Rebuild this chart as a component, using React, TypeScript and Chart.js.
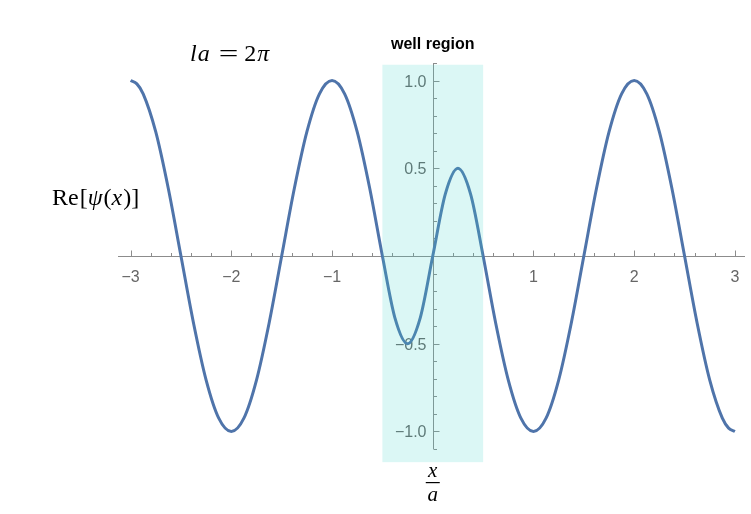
import React, { useEffect, useRef } from "react";
import { Chart, registerables } from "chart.js";

Chart.register(...registerables);

// Sample positions x/a and the real part of the wave function at each one
const xValues = [
  -3, -2.9375, -2.875, -2.75, -2.625, -2.5, -2.375, -2.25, -2.125,
  -2, -1.875, -1.75, -1.625, -1.5, -1.375, -1.25, -1.125,
  -1, -0.875, -0.75, -0.625, -0.5, -0.375, -0.25, -0.125,
  0, 0.125, 0.25, 0.375, 0.5, 0.625, 0.75, 0.875,
  1, 1.125, 1.25, 1.375, 1.5, 1.625, 1.75, 1.875,
  2, 2.125, 2.25, 2.375, 2.5, 2.625, 2.75, 2.875, 2.9375, 3,
];
const psiValues = [
  1, 0.981, 0.924, 0.707, 0.383, 0, -0.383, -0.707, -0.924,
  -1, -0.924, -0.707, -0.383, 0, 0.383, 0.707, 0.924,
  1, 0.924, 0.707, 0.383, 0, -0.354, -0.5, -0.354,
  0, 0.354, 0.5, 0.354, 0, -0.383, -0.707, -0.924,
  -1, -0.924, -0.707, -0.383, 0, 0.383, 0.707, 0.924,
  1, 0.924, 0.707, 0.383, 0, -0.383, -0.707, -0.924, -0.981, -1,
];

const xTickValues = [-3, -2, -1, 1, 2, 3];
const xTickLabels = ["\u22123", "\u22122", "\u22121", "1", "2", "3"];
const yTickValues = [1, 0.5, -0.5, -1];
const yTickLabels = ["1.0", "0.5", "\u22120.5", "\u22121.0"];

// Extent of the shaded well
const wellX = [-0.5, 0.5];
const wellY = [-1.175, 1.09];

const AXIS_COLOR = "#8c8c8c";
const LABEL_COLOR = "#666666";
const CURVE_COLOR = "#4f74aa";
const SANS = "'Liberation Sans', Arial, sans-serif";
const SERIF = "'Liberation Serif', 'Times New Roman', serif";

// text, italic, gap before, horizontal stretch
type Piece = [string, boolean, number?, number?];

// Draw a run of math text, italic pieces mixed with upright ones
function drawMath(ctx: CanvasRenderingContext2D, pieces: Piece[], x: number, y: number, size: number) {
  let cx = x;
  for (const [txt, italic, gap, stretch] of pieces) {
    cx += gap || 0;
    const sx = stretch || 1;
    ctx.font = `${italic ? "italic " : ""}${size}px ${SERIF}`;
    const w = ctx.measureText(txt).width * sx;
    ctx.save();
    ctx.translate(cx, y);
    ctx.scale(sx, 1);
    ctx.fillText(txt, 0, 0);
    ctx.restore();
    cx += w;
  }
}

const crossAxesPlugin = {
  id: "crossAxes",
  beforeDatasetsDraw(chart: any) {
    const { ctx } = chart;
    const xs = chart.scales.x;
    const ys = chart.scales.y;
    const x0 = Math.round(xs.getPixelForValue(0)) + 0.5;
    const y0 = Math.round(ys.getPixelForValue(0)) + 0.5;
    ctx.save();
    ctx.strokeStyle = AXIS_COLOR;
    ctx.lineWidth = 1;
    ctx.beginPath();
    ctx.moveTo(xs.left, y0);
    ctx.lineTo(xs.right, y0);
    ctx.moveTo(x0, ys.top);
    ctx.lineTo(x0, ys.bottom);
    // horizontal axis: ticks every 0.2, pointing up
    for (let i = -15; i <= 15; i++) {
      if (i === 0) continue;
      const px = Math.round(xs.getPixelForValue(i * 0.2)) + 0.5;
      const len = i % 5 === 0 ? 6 : 3.5;
      ctx.moveTo(px, y0);
      ctx.lineTo(px, y0 - len);
    }
    // vertical axis: ticks every 0.1, pointing right
    for (let i = -11; i <= 11; i++) {
      if (i === 0) continue;
      const py = Math.round(ys.getPixelForValue(i * 0.1)) + 0.5;
      const len = i % 5 === 0 ? 6 : 3.5;
      ctx.moveTo(x0, py);
      ctx.lineTo(x0 + len, py);
    }
    ctx.stroke();

    ctx.fillStyle = LABEL_COLOR;
    ctx.font = `16px ${SANS}`;
    ctx.textAlign = "center";
    ctx.textBaseline = "alphabetic";
    xTickValues.forEach((v, i) => {
      ctx.fillText(xTickLabels[i], xs.getPixelForValue(v), y0 + 25);
    });
    ctx.textAlign = "right";
    yTickValues.forEach((v, i) => {
      ctx.fillText(yTickLabels[i], x0 - 7, ys.getPixelForValue(v) + 6);
    });
    ctx.restore();
  },
  afterDraw(chart: any) {
    const { ctx } = chart;
    const xs = chart.scales.x;
    const ys = chart.scales.y;
    ctx.save();
    // translucent well band laid over curve and axes
    const l = xs.getPixelForValue(wellX[0]);
    const r = xs.getPixelForValue(wellX[1]);
    const t = ys.getPixelForValue(wellY[1]);
    const b = ys.getPixelForValue(wellY[0]);
    ctx.fillStyle = "rgba(64, 215, 200, 0.19)";
    ctx.fillRect(l, t, r - l, b - t);

    ctx.fillStyle = "#000000";
    ctx.textAlign = "center";
    ctx.textBaseline = "alphabetic";
    ctx.font = `bold 16px ${SANS}`;
    ctx.fillText("well region", (l + r) / 2, 49);

    ctx.textAlign = "left";
    drawMath(ctx, [["l", true], ["a", true, 1], ["=", false, 9, 1.45], ["2", false, 6], ["\u03c0", true, 1]], 190, 61, 24);
    drawMath(ctx, [["Re", false], ["[", false, 1], ["\u03c8", true, 0], ["(", false, 1], ["x", true, 0], [")", false, 1], ["]", false, 0]], 52, 205, 24);

    // x / a fraction under the origin
    const cx = xs.getPixelForValue(0);
    ctx.textAlign = "center";
    ctx.font = `italic 21px ${SERIF}`;
    ctx.fillText("x", cx, 477);
    ctx.fillText("a", cx, 501);
    ctx.fillRect(cx - 7, 482, 14, 1.2);
    ctx.restore();
  },
};

export default function App() {
  const canvasRef = useRef<HTMLCanvasElement | null>(null);

  useEffect(() => {
    if (!canvasRef.current) return;
    const points = xValues.map((x, i) => ({ x, y: psiValues[i] }));
    const chart = new Chart(canvasRef.current, {
      type: "line",
      data: {
        datasets: [
          {
            data: points,
            borderColor: CURVE_COLOR,
            borderWidth: 3,
            pointRadius: 0,
            cubicInterpolationMode: "monotone",
            fill: false,
            clip: false as any,
          },
        ],
      },
      options: {
        responsive: false,
        animation: false,
        devicePixelRatio: 1,
        layout: { padding: { left: 118, right: 6, top: 63, bottom: 65 } },
        scales: {
          x: { type: "linear", min: -3.125, max: 3.1, display: false },
          y: { type: "linear", min: -1.1, max: 1.1, display: false },
        },
        plugins: {
          legend: { display: false },
          tooltip: { enabled: false },
        },
      },
      plugins: [crossAxesPlugin],
    });
    return () => chart.destroy();
  }, []);

  return (
    <div style={{ position: "fixed", left: 0, top: 0, width: 751, height: 514, background: "#ffffff" }}>
      <canvas ref={canvasRef} width={751} height={514} style={{ width: 751, height: 514 }} />
    </div>
  );
}
